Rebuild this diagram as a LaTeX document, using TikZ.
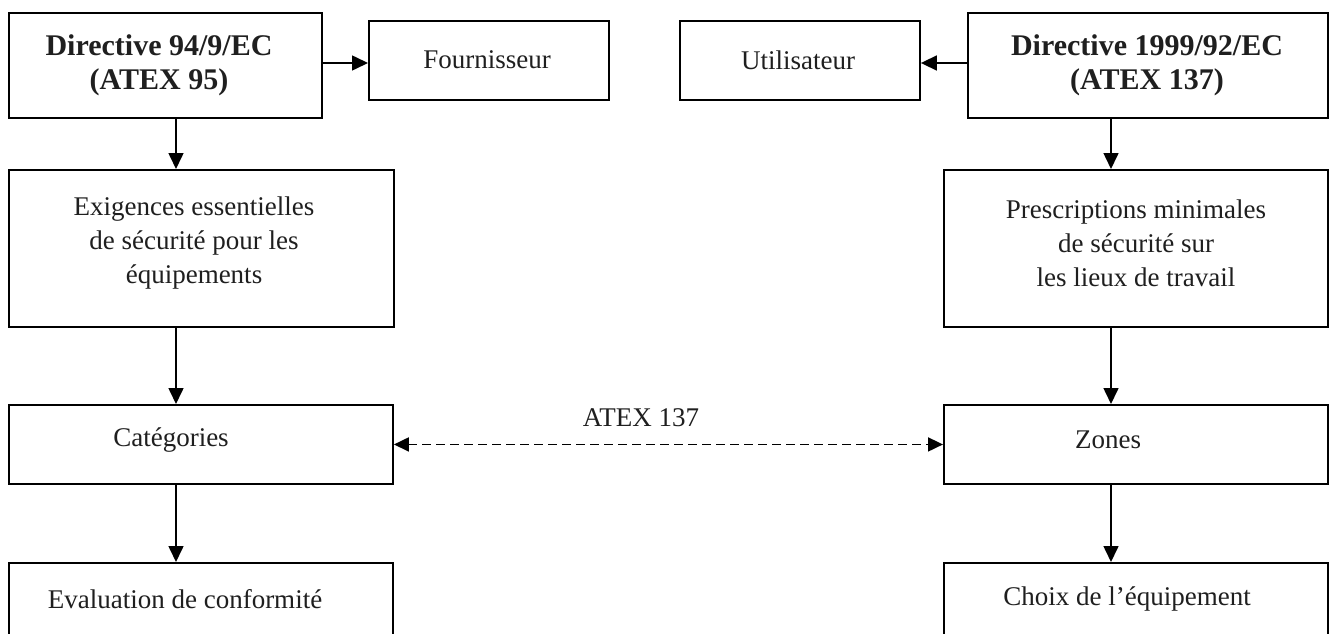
\documentclass[tikz,border=0pt]{standalone}
\usepackage{fontspec}
\setmainfont{Liberation Serif}
\usetikzlibrary{arrows.meta}
\begin{document}
\begin{tikzpicture}[x=1pt,y=-1pt,
  box/.style={draw, line width=1.9pt, inner sep=0pt, anchor=north west},
  txt/.style={font=\fontsize{27}{34}\selectfont, align=center, inner sep=0pt, text=black!88},
  btxt/.style={font=\fontsize{30}{34}\selectfont\bfseries, align=center, inner sep=0pt, text=black!88},
  arr/.style={line width=1.6pt, -{Triangle[length=16pt,width=15pt]}},
  darr/.style={line width=1.8pt, dash pattern=on 9pt off 5pt, {Triangle[length=15pt,width=14pt]}-{Triangle[length=15pt,width=14pt]}}]
\useasboundingbox (0,0) rectangle (1333,634);
\clip (0,0) rectangle (1333,634);
\fill[white] (0,0) rectangle (1333,634);
% boxes
\node[box, minimum width=313pt, minimum height=105pt] (D95) at (8,12) {};
\node[box, minimum width=240pt, minimum height=79pt] (Four) at (368,20) {};
\node[box, minimum width=240pt, minimum height=79pt] (Util) at (679,20) {};
\node[box, minimum width=360pt, minimum height=105pt] (D137) at (967,12) {};
\node[box, minimum width=385pt, minimum height=157pt] (Exig) at (8,169) {};
\node[box, minimum width=384pt, minimum height=157pt] (Presc) at (943,169) {};
\node[box, minimum width=384pt, minimum height=79pt] (Cat) at (8,404) {};
\node[box, minimum width=384pt, minimum height=79pt] (Zones) at (943,404) {};
\node[box, minimum width=384pt, minimum height=110pt] (Eval) at (8,562) {};
\node[box, minimum width=384pt, minimum height=110pt] (Choix) at (943,562) {};
% texts
\node[btxt] (D95t) at (159,65) {Directive 94/9/EC\\(ATEX 95)};
\node[btxt] (D137t) at (1147,65) {Directive 1999/92/EC\\(ATEX 137)};
\node[txt] (Fourt) at (487,60) {Fournisseur};
\node[txt] (Utilt) at (798,60) {Utilisateur};
\node[txt] (Exigt) at (194,243) {Exigences essentielles\\de sécurité pour les\\équipements};
\node[txt] (Presct) at (1136,243) {Prescriptions minimales\\de sécurité sur\\les lieux de travail};
\node[txt] (Catt) at (171,440) {Catégories};
\node[txt] (Zonest) at (1108,440) {Zones};
\node[txt] (Evalt) at (185,599) {Evaluation de conformité};
\node[txt] (Choixt) at (1127,599) {Choix de l’équipement};
\node[txt] (lab) at (641,418) {ATEX 137};
% helper coordinates
\coordinate (yT) at (0,63);
\coordinate (xL) at (176,0);
\coordinate (xR) at (1111,0);
% connectors
\draw[arr] (D95.east |- yT) -- (Four.west |- yT);
\draw[arr] (D137.west |- yT) -- (Util.east |- yT);
\draw[arr] (D95.south -| xL) -- (Exig.north -| xL);
\draw[arr] (Exig.south -| xL) -- (Cat.north -| xL);
\draw[arr] (Cat.south -| xL) -- (Eval.north -| xL);
\draw[arr] (D137.south -| xR) -- (Presc.north -| xR);
\draw[arr] (Presc.south -| xR) -- (Zones.north -| xR);
\draw[arr] (Zones.south -| xR) -- (Choix.north -| xR);
\draw[darr] (Cat.east) -- (Zones.west);
\end{tikzpicture}
\end{document}
